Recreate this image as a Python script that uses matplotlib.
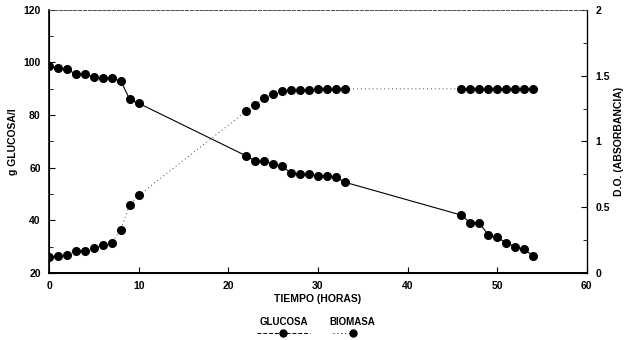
import matplotlib.pyplot as plt
import numpy as np
from matplotlib.lines import Line2D

plt.rcParams['font.family'] = ['Liberation Sans', 'DejaVu Sans']
plt.rcParams['font.weight'] = 'bold'

# datos
t_glu = [0, 1, 2, 3, 4, 5, 6, 7, 8, 9, 10,
         22, 23, 24, 25, 26, 27, 28, 29, 30, 31, 32, 33,
         46, 47, 48, 49, 50, 51, 52, 53, 54]
glucosa = [98.5, 98, 97.5, 95.5, 95.5, 94.5, 94, 94, 93, 86, 84.5,
           64.5, 62.5, 62.5, 61.5, 60.5, 58, 57.5, 57.5, 57, 57, 56.5, 54.5,
           42, 39, 39, 34.5, 33.5, 31.5, 30, 29, 26.5]

t_bio = [0, 1, 2, 3, 4, 5, 6, 7, 8, 9, 10,
         22, 23, 24, 25, 26, 27, 28, 29, 30, 31, 32, 33,
         46, 47, 48, 49, 50, 51, 52, 53, 54]
biomasa = [0.12, 0.13, 0.14, 0.17, 0.17, 0.19, 0.21, 0.23, 0.33, 0.52, 0.59,
           1.23, 1.28, 1.33, 1.36, 1.38, 1.39, 1.39, 1.39, 1.40, 1.40, 1.40, 1.40,
           1.40, 1.40, 1.40, 1.40, 1.40, 1.40, 1.40, 1.40, 1.40]

fig = plt.figure(figsize=(6.29, 3.40), dpi=100)
ax = fig.add_axes([0.078, 0.197, 0.855, 0.774])
ax2 = ax.twinx()

ax.plot(t_glu, glucosa, color='black', lw=0.8, marker='o', ms=5.5)
ax2.plot(t_bio, biomasa, color='#444444', lw=0.7, ls=(0, (1, 3)), marker='o', ms=5.5,
         mfc='black', mec='black')

ax.set_xlim(0, 60)
ax.set_ylim(20, 120)
ax2.set_ylim(0, 2)
ax.set_xticks(np.arange(0, 61, 10))
ax.set_yticks(np.arange(20, 121, 20))
ax.set_yticks(np.arange(30, 120, 20), minor=True)
ax2.set_yticks([0, 0.5, 1, 1.5, 2])
ax2.set_yticklabels(['0', '0.5', '1', '1.5', '2'])
ax2.set_yticks([0.25, 0.75, 1.25, 1.75], minor=True)

for a in (ax, ax2):
    a.tick_params(direction='in', length=4, width=0.8, labelsize=7.5, pad=6)
    a.tick_params(which='minor', direction='in', length=3, width=0.6)
    a.spines['top'].set_linestyle((0, (3, 2)))
    a.spines['top'].set_color('#555555')
    a.spines['top'].set_linewidth(0.7)
    for lab in a.get_xticklabels() + a.get_yticklabels():
        lab.set_fontweight('bold')
ax.spines['left'].set_linewidth(1.2)
ax.spines['bottom'].set_linewidth(1.4)
ax2.spines['right'].set_linewidth(0.9)

ax.set_xlabel('TIEMPO (HORAS)', fontsize=7.5, fontweight='bold', labelpad=2)
ax.set_ylabel('g GLUCOSA/l', fontsize=7.5, fontweight='bold', labelpad=4)
ax2.set_ylabel('D.O. (ABSORBANCIA)', fontsize=7.5, fontweight='bold',
               rotation=90, labelpad=3)

# leyenda
W, H = 629, 340
fig.text(284 / W, 1 - 322 / H, 'GLUCOSA', fontsize=7, fontweight='bold',
         ha='center', va='center')
fig.text(352 / W, 1 - 322 / H, 'BIOMASA', fontsize=7, fontweight='bold',
         ha='center', va='center')
fig.add_artist(Line2D([257 / W, 310 / W], [1 - 333 / H] * 2, color='black', lw=0.7,
                      ls=(0, (4, 2))))
fig.add_artist(Line2D([283 / W], [1 - 333 / H], color='black', marker='o', ms=5))
fig.add_artist(Line2D([333 / W, 353 / W], [1 - 333 / H] * 2, color='black', lw=0.7,
                      ls=(0, (1, 3))))
fig.add_artist(Line2D([353 / W], [1 - 333 / H], color='black', marker='o', ms=5))

fig.savefig('out.png', dpi=100)
